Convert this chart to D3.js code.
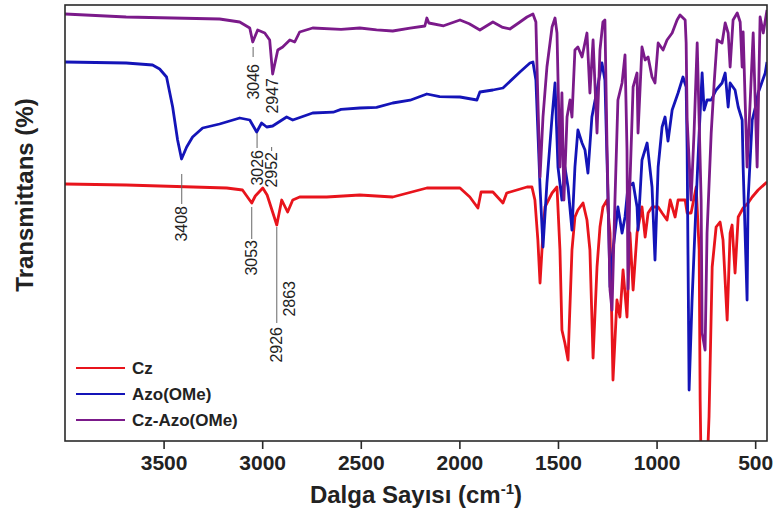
<!DOCTYPE html>
<html><head><meta charset="utf-8">
<script src="https://cdn.jsdelivr.net/npm/d3@7/dist/d3.min.js"></script>
<style>
html,body{margin:0;padding:0;background:#fff;}
svg{display:block;font-family:"Liberation Sans",Arial,sans-serif;}
</style></head>
<body><svg id="chart" width="779" height="512"></svg>
<script>
// ---------- DATA (wavenumber cm-1, transmittance, arbitrary offset units) ----------
const seriesNames = ["Cz", "Azo(OMe)", "Cz-Azo(OMe)"];
const xTicks = [3500, 3000, 2500, 2000, 1500, 1000, 500];

const cz = [[4000,64.25],[3690,64],[3180,63.25],[3100,62.75],[3053,59.5],[3035,61.25],[2997,63.25],[2975,61.5],
[2926,54],[2901,60.25],[2871,57.25],[2845,60.25],[2810,61],[2673,61],[2505,61.5],[2338,61],[2165,63.25],
[1997,63.25],[1947,61],[1906,58.25],[1890,62.25],[1830,62.25],[1779,59.5],[1760,62],[1657,63.5],[1632,63.5],
[1617,60.25],[1602,50.25],[1591,39.5],[1576,52],[1566,58.5],[1530,62],[1505,63.5],[1490,47.75],[1480,27.75],
[1465,24.5],[1449,20.25],[1429,47.75],[1414,56],[1399,57.75],[1373,59.5],[1353,55.25],[1338,47.75],[1322,20.75],
[1302,43.5],[1287,53.5],[1272,58.5],[1251,60.25],[1236,52],[1221,15.25],[1201,35.25],[1186,31],[1170,42.75],
[1150,31],[1135,52],[1119,37.75],[1099,52],[1074,58.5],[1058,51],[1043,57],[1023,58.5],[992,58.5],[972,57],
[947,55.25],[931,60.25],[906,56],[891,60.25],[855,60.25],[845,57],[825,57],[799,63.5],[784,47.75],[779,10.25],
[774,-7.25],[762,-7.25],[752,-7.25],[744,-7.25],[734,6],[718,43.5],[698,53.5],[678,54.75],[663,50.25],[642,30.25],
[627,52],[617,54],[602,42],[586,56],[561,58.25],[536,59.5],[515,61],[485,62.75],[440,64.75]];

const azo = [[4000,94.75],[3690,94.5],[3556,94],[3520,93],[3485,91],[3454,83.5],[3429,75.25],[3409,70.5],
[3383,73.5],[3353,76],[3302,78.25],[3216,79.25],[3114,80.75],[3063,80.25],[3028,77.25],[3003,79.5],[2977,78.5],
[2947,78.75],[2876,81],[2845,80.25],[2744,82],[2640,82.2],[2600,82.9],[2505,83.25],[2420,83.4],[2338,84.5],
[2250,85.2],[2165,86.75],[2100,86.1],[1997,86],[1911,85.25],
[1896,87.25],[1830,87.75],[1779,88.25],[1693,92.25],[1642,94.5],[1627,94.75],[1612,90.25],[1591,63.5],
[1576,48.5],[1556,64.5],[1530,81],[1515,89.5],[1500,68.5],[1480,60.25],[1465,68.5],[1449,63.5],[1429,52.75],
[1414,68.5],[1399,77.75],[1378,74.5],[1363,72.75],[1348,67],[1328,81],[1302,87.75],[1277,94.5],[1262,90.25],
[1246,60.25],[1236,38.5],[1221,47.75],[1196,58.5],[1175,52],[1160,56],[1145,63.5],[1119,64.5],[1099,58.5],
[1094,52.75],[1074,70.25],[1048,74.5],[1023,63.5],[1008,45.25],[992,68.5],[972,78.5],[957,81],[942,75],
[921,82.75],[891,87],[866,91],[850,88.5],[845,72.75],[835,12.75],[820,35.25],[799,60.25],[784,77],[769,92],
[759,82.75],[744,85.25],[723,85.25],[698,87.75],[668,89.5],[652,92],[637,83.5],[627,89.5],[602,87.75],
[586,83.5],[566,80.25],[561,68.5],[541,35.25],[536,60.25],[515,80.25],[500,83.25],[485,87],[449,92],[440,94.75]];

const czAzo = [[4000,106.75],[3690,106],[3216,105.5],[3114,104.75],[3063,103.25],[3048,99.75],[3023,102.75],
[2987,102],[2962,100.25],[2947,91.75],[2921,97.75],[2896,98.5],[2860,100.25],[2835,99.75],[2810,102.25],
[2744,103.25],[2600,102.9],[2505,103.25],[2420,102.8],[2338,102.5],[2250,103.2],[2175,103.75],[2165,105.75],
[2155,104.5],[2080,103.8],[1997,105.25],[1950,104.3],[1896,102.75],
[1830,104.75],[1780,103.4],[1744,103],[1700,104.5],[1657,106],[1627,106.75],[1612,104.75],[1602,85.25],[1591,66],[1576,81],[1556,93.5],
[1530,103.5],[1515,105.75],[1505,102],[1490,68.5],[1480,87],[1470,60.25],[1454,81],[1439,85.25],[1429,81],
[1414,97.75],[1399,98.5],[1378,96],[1353,102],[1338,87],[1322,100.25],[1302,77],[1287,97.75],[1272,104.75],
[1262,105.25],[1251,72.75],[1236,37.75],[1226,32.75],[1211,60.25],[1196,85.25],[1175,89.5],[1160,96.5],
[1150,72.75],[1145,38],[1135,64.5],[1119,88.5],[1099,92],[1094,77],[1074,98.5],[1058,95.25],[1043,96],
[1023,91],[1008,89.5],[992,99.5],[967,97.75],[947,100.25],[921,102],[896,105.25],[881,106.5],[855,105.25],
[850,99.5],[845,80.25],[825,60.25],[810,77],[794,99.5],[774,60.25],[769,27],[754,22.75],[744,52],[723,77],
[708,89.5],[693,100.25],[668,99.5],[652,104.5],[637,102],[627,93.5],[612,105.25],[591,107],[576,104.75],
[566,93.5],[561,102.25],[541,68.5],[525,85.25],[510,102],[490,68.5],[475,106],[459,102],[440,107.75]];

// peak labels
const peakLabels = ["3046", "2947", "3026", "2952", "3408", "3053", "2863", "2926"];
const peakWaves  = [3046, 2947, 3026, 2952, 3408, 3053, 2863, 2926];

// ---------- LAYOUT ----------
const colors = ["#e8141c", "#1414b8", "#7b1a8a"];
const margin = {left: 65, right: 12, top: 5, bottom: 71};
const W = 779, H = 512;
const x = d3.scaleLinear().domain([4000, 440]).range([margin.left, W - margin.right]);
const y = d3.scaleLinear().domain([0, 109]).range([H - margin.bottom, margin.top]);

const svg = d3.select("#chart");
svg.append("defs").append("clipPath").attr("id", "plotclip")
  .append("rect").attr("x", x(4000)).attr("y", y(109)).attr("width", x(440) - x(4000)).attr("height", y(0) - y(109));

const line = d3.line().x(d => x(d[0])).y(d => y(d[1]));
const g = svg.append("g").attr("clip-path", "url(#plotclip)");
[cz, azo, czAzo].forEach((s, i) => {
  g.append("path").datum(s).attr("d", line).attr("fill", "none")
    .attr("stroke", colors[i]).attr("stroke-width", 2.8).attr("stroke-linejoin", "round");
});

// peak annotation placement (pixel layout: text top, text x-offset, leader y1,y2)
const annLayout = [
  {top: 64, dx: 0, l: [47, 57]},
  {top: 78, dx: 0, l: null},
  {top: 150, dx: 0, l: [133, 148]},
  {top: 152, dx: 0, l: [147, 151]},
  {top: 206, dx: 0, l: [174, 204]},
  {top: 240, dx: 0, l: [207, 239]},
  {top: 281, dx: 0, l: null},
  {top: 327, dx: 0, l: [227, 323]}
];
const ann = svg.append("g");
peakLabels.forEach((t, i) => {
  const L = annLayout[i];
  const px = x(peakWaves[i]);
  if (L.l) ann.append("line").attr("x1", px).attr("x2", px).attr("y1", L.l[0]).attr("y2", L.l[1])
    .attr("stroke", "#666").attr("stroke-width", 1);
  ann.append("text").attr("transform", `translate(${px + L.dx},${L.top}) rotate(-90)`)
    .attr("text-anchor", "end").attr("dominant-baseline", "central")
    .attr("font-size", 16).attr("fill", "#222").text(t);
});

// frame
svg.append("rect").attr("x", x(4000)).attr("y", y(109)).attr("width", x(440) - x(4000)).attr("height", y(0) - y(109))
  .attr("fill", "none").attr("stroke", "#2a2a2a").attr("stroke-width", 1.6);

// x axis
const xa = svg.append("g").attr("transform", `translate(0,${y(0)})`)
  .call(d3.axisBottom(x).tickValues(xTicks).tickSize(8).tickSizeOuter(0).tickPadding(6).tickFormat(d3.format("d")));
xa.select(".domain").remove();
xa.selectAll("line").attr("stroke", "#2a2a2a").attr("stroke-width", 1.6);
xa.selectAll("text").attr("font-size", 21).attr("font-weight", "bold").attr("fill", "#222")
  .attr("font-family", "Liberation Sans, Arial, sans-serif");

// axis titles
const xt = svg.append("text").attr("x", 416).attr("y", 503).attr("text-anchor", "middle")
  .attr("font-size", 24).attr("font-weight", "bold").attr("fill", "#222");
xt.append("tspan").text("Dalga Sayısı (cm");
xt.append("tspan").attr("font-size", 15).attr("dy", -9).text("-1");
xt.append("tspan").attr("dy", 9).text(")");

svg.append("text").attr("transform", "translate(33,195) rotate(-90)").attr("text-anchor", "middle")
  .attr("font-size", 24).attr("font-weight", "bold").attr("fill", "#222").text("Transmittans (%)");

// legend
const leg = svg.append("g");
seriesNames.forEach((n, i) => {
  const ly = 368 + i * 26;
  leg.append("line").attr("x1", 76).attr("x2", 125).attr("y1", ly).attr("y2", ly)
    .attr("stroke", colors[i]).attr("stroke-width", 2.2);
  leg.append("text").attr("x", 132).attr("y", ly).attr("dominant-baseline", "central")
    .attr("font-size", 17).attr("font-weight", "bold").attr("fill", "#222").text(n);
});
</script></body></html>
